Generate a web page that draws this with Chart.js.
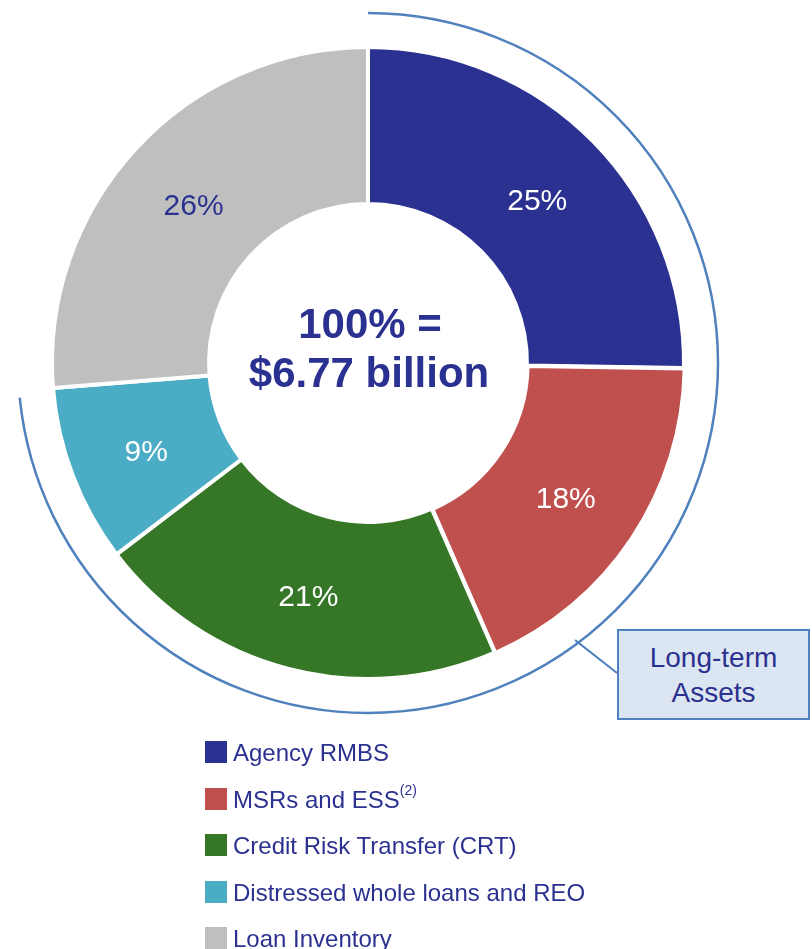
<!DOCTYPE html>
<html>
<head>
<meta charset="utf-8">
<script src="https://cdn.jsdelivr.net/npm/chart.js@4.4.0/dist/chart.umd.min.js"></script>
<style>
  body { margin: 0; background: #fff; font-family: "Liberation Sans", Arial, sans-serif; }
  #wrap { position: relative; width: 812px; height: 949px; overflow: hidden; }
  #chart { position: absolute; left: 0; top: 0; }
  .row { position: absolute; left: 205px; height: 24px; line-height: 24px; font-size: 24px;
         color: #2b3190; padding-left: 28px; white-space: nowrap; }
  .row .sw { position: absolute; left: 0; top: 0; width: 22px; height: 22px; }
  .row sup { font-size: 14px; vertical-align: 13px; line-height: 0; }
  #callout { position: absolute; left: 617px; top: 629px; width: 193px; height: 91px;
             box-sizing: border-box; border: 2px solid #4f81bd; background: #dce6f2;
             color: #2b3190; font-size: 28px; line-height: 35px; text-align: center; padding-top: 9px; }
</style>
</head>
<body>
<div id="wrap">
  <canvas id="chart" width="812" height="949"></canvas>
  <div id="legend"></div>
  <div id="callout">Long-term<br>Assets</div>
</div>
<script>
// Data
const categories = ['Agency RMBS', 'MSRs and ESS', 'Credit Risk Transfer (CRT)', 'Distressed whole loans and REO', 'Loan Inventory'];
const shares = [25, 18, 21, 9, 26];
const colors = ['#2b3190', '#c0504d', '#357627', '#4bacc6', '#bfbfbf'];
const labelColors = ['#ffffff', '#ffffff', '#ffffff', '#ffffff', '#2b3190'];
const longTermCount = 4; // first four slices are long-term assets
const totalText = ['100% =', '$6.77 billion'];

// Legend (HTML so the footnote can be a superscript)
const legend = document.getElementById('legend');
categories.forEach((name, i) => {
    const row = document.createElement('div');
    row.className = 'row';
    row.style.top = (741 + i * 46.5) + 'px';
    row.innerHTML = '<span class="sw" style="background:' + colors[i] + '"></span>' + name +
        (i === 1 ? '<sup>(2)</sup>' : '');
    legend.appendChild(row);
});

// Percent labels + centre text + long-term arc
const decorations = {
    id: 'decorations',
    afterDatasetsDraw(chart) {
        const ctx = chart.ctx;
        const arcs = chart.getDatasetMeta(0).data;
        const cx = arcs[0].x, cy = arcs[0].y;
        const outer = arcs[0].outerRadius;

        ctx.save();
        ctx.textAlign = 'center';
        ctx.textBaseline = 'middle';
        ctx.font = '30px "Liberation Sans", Arial, sans-serif';
        arcs.forEach((arc, i) => {
            const p = arc.getProps(['x', 'y', 'startAngle', 'endAngle', 'innerRadius', 'outerRadius']);
            const mid = (p.startAngle + p.endAngle) / 2;
            const r = (p.innerRadius + p.outerRadius) / 2;
            ctx.fillStyle = labelColors[i];
            ctx.fillText(shares[i] + '%', p.x + Math.cos(mid) * r, p.y + Math.sin(mid) * r + 5);
        });

        ctx.font = 'bold 42px "Liberation Sans", Arial, sans-serif';
        ctx.fillStyle = '#2b3190';
        ctx.textBaseline = 'alphabetic';
        ctx.fillText(totalText[0], cx + 2, cy - 25);
        ctx.fillText(totalText[1], cx + 1, cy + 24);

        // arc around long-term assets
        const ringR = 350;
        ctx.strokeStyle = '#4f81bd';
        ctx.lineWidth = 2.5;
        ctx.beginPath();
        ctx.arc(cx, cy, ringR, arcs[0].startAngle, arcs[longTermCount - 1].endAngle - 0.02);
        ctx.stroke();

        // pointer to callout
        const a = Math.atan2(277, 207);
        ctx.lineWidth = 2;
        ctx.beginPath();
        ctx.moveTo(cx + Math.cos(a) * (ringR - 4), cy + Math.sin(a) * (ringR - 4));
        ctx.lineTo(617, 673);
        ctx.stroke();
        ctx.restore();
    }
};

new Chart(document.getElementById('chart').getContext('2d'), {
    type: 'doughnut',
    data: {
        labels: categories,
        datasets: [{
            data: shares,
            backgroundColor: colors,
            borderColor: '#ffffff',
            borderWidth: 4,
            offset: [0, 3, 0, 0, 0]
        }]
    },
    options: {
        responsive: false,
        animation: false,
        radius: 316,
        cutout: '50.3%',
        layout: { padding: { left: 0, top: 0, right: 76, bottom: 223 } },
        plugins: {
            legend: { display: false },
            tooltip: { enabled: false }
        }
    },
    plugins: [decorations]
});
</script>
</body>
</html>
